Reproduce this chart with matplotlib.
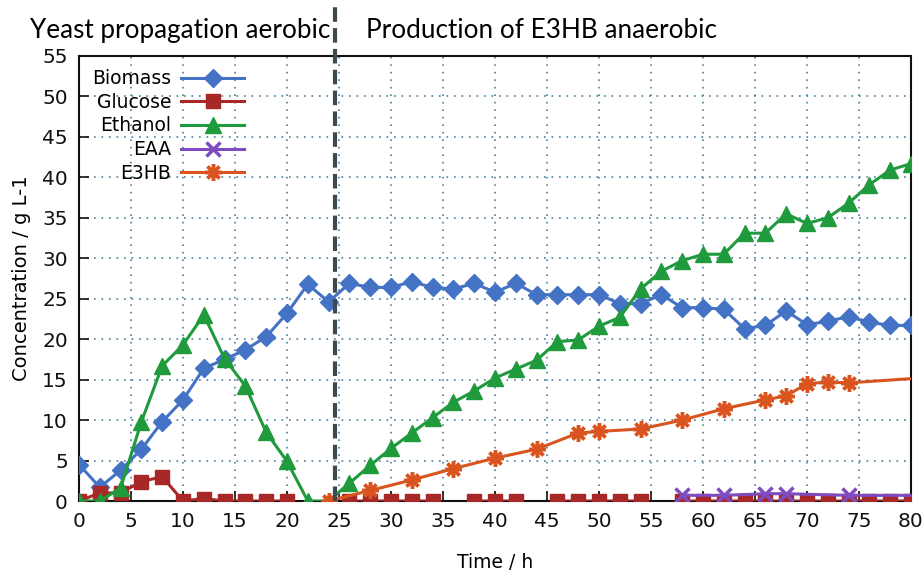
import numpy as np
import matplotlib
matplotlib.use("Agg")
import matplotlib.pyplot as plt

plt.rcParams["font.family"] = ["DejaVu Sans"]

nan = np.nan
t = list(range(0, 81, 2))

biomass = [4.5, 1.7, 3.8, 6.4, 9.8, 12.5, 16.4, 17.5, 18.7, 20.3, 23.2, 26.8, 24.6,
           26.9, 26.4, 26.4, 27.1, 26.4, 26.2, 26.9, 25.8, 26.9, 25.5, 25.5, 25.5, 25.5,
           24.4, 24.4, 25.5, 23.9, 23.9, 23.7, 21.3, 21.7, 23.5, 21.8, 22.2, 22.8, 22.1,
           21.7, 21.7]
glucose = [0, 1.0, 1.0, 2.4, 3.0, 0, 0.3, 0, 0, 0, 0, nan, nan,
           0, 0, 0, 0, 0, nan, 0, 0, 0, nan, 0, 0, 0,
           0, 0, nan, 0, 0, 0, 0, 0, 0, 0, 0, 0, 0,
           0, 0]
ethanol = [0, 0, 1.6, 9.8, 16.7, 19.3, 23.0, 17.6, 14.2, 8.5, 4.9, 0, 0,
           2.2, 4.4, 6.5, 8.4, 10.3, 12.2, 13.6, 15.2, 16.3, 17.4, 19.7, 19.9, 21.6,
           22.7, 26.2, 28.4, 29.7, 30.5, 30.5, 33.1, 33.1, 35.5, 34.3, 35.0, 36.8, 39.1,
           40.9, 41.7]
t_eaa = [58, 62, 66, 68, 74, 82]
eaa = [0.7, 0.7, 0.9, 0.9, 0.7, 0.7]
t_e3hb = [24, 28, 32, 36, 40, 44, 48, 50, 54, 58, 62, 66, 68, 70, 72, 74, 82]
e3hb = [0.0, 1.3, 2.6, 4.0, 5.3, 6.4, 8.4, 8.6, 8.9, 10.0, 11.4, 12.5, 13.0, 14.5,
        14.7, 14.6, 15.3]

switch_t = 24.6

fig = plt.figure(figsize=(9.22, 5.76), dpi=100)
ax = fig.add_axes([0.0857, 0.1302, 0.9023, 0.7726])

lw = 2.2
ax.plot(t, biomass, color="#4472c4", lw=lw, marker="D", ms=9, label="Biomass", zorder=3)
ax.plot(t, glucose, color="#a82828", lw=lw, marker="s", ms=9.5, label="Glucose", zorder=3)
ax.plot(t, ethanol, color="#1f9a3c", lw=lw, marker="^", ms=11, label="Ethanol", zorder=3)
ax.plot(t_eaa, eaa, color="#7e4cc0", lw=lw, marker="x", ms=10, mew=2.5, label="EAA", zorder=3)
ax.plot(t_e3hb, e3hb, color="#d9541e", lw=lw, marker=(8, 2, 0), ms=12, mew=2.5,
        label="E3HB", zorder=3)

ax.axvline(switch_t, ymin=0, ymax=1.11, color="#3d4a52", lw=3, ls=(0, (3.5, 1.5)),
           clip_on=False, zorder=4)

ax.set_xlim(0, 80)
ax.set_ylim(0, 55)
ax.set_xticks(range(0, 81, 5))
ax.set_yticks(range(0, 56, 5))
ax.tick_params(direction="in", length=7, width=1.2, labelsize=14.5, pad=8, colors="#111")
ax.grid(True, ls=(0, (1, 3.5)), color="#4a7f9a", lw=1.2)
for s in ax.spines.values():
    s.set_linewidth(1.5)
    s.set_color("#111")

ax.set_xlabel("Time / h", fontsize=13.5, labelpad=16)
ax.set_ylabel("Concentration / g L-1", fontsize=14, labelpad=8)

leg = ax.legend(loc="upper left", frameon=False, markerfirst=False, fontsize=13.5,
                handlelength=3.4, labelspacing=0.25, handletextpad=0.5,
                borderaxespad=0.3, bbox_to_anchor=(0.0, 1.0))
for col in leg._legend_handle_box.get_children():
    col.align = "right"

fig.text(30 / 922, 1 - 38 / 576, "Yeast propagation aerobic", fontsize=18.8,
         family=["Lato", "DejaVu Sans"], ha="left", va="baseline")
fig.text(366 / 922, 1 - 38 / 576, "Production of E3HB anaerobic", fontsize=18.8,
         family=["Lato", "DejaVu Sans"], ha="left", va="baseline")

fig.savefig("out.png", dpi=100)
